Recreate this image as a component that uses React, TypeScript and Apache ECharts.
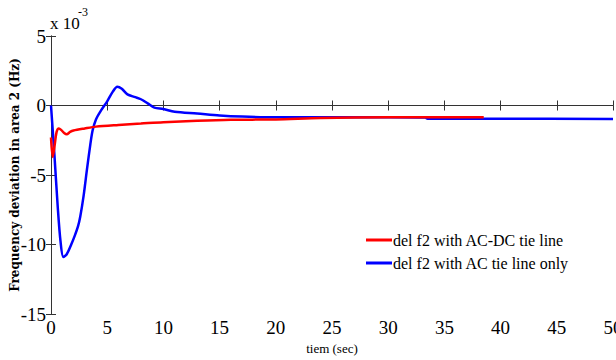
import React, { useEffect, useRef } from "react";
import * as echarts from "echarts";

const xTicks = [0, 5, 10, 15, 20, 25, 30, 35, 40, 45, 50];
const yTicks = [-15, -10, -5, 0, 5];

const redTime = [0, 0.15, 0.3, 0.5, 0.7, 0.9, 1.2, 1.4, 1.7, 2.0, 3.0, 4.0, 6, 8, 10, 13, 16, 20, 24, 30, 38.5];
const redValue = [-2.3, -3.7, -3.0, -1.9, -1.65, -1.75, -2.0, -2.07, -1.9, -1.8, -1.65, -1.52, -1.4, -1.3, -1.2, -1.1, -1.03, -1.0, -0.9, -0.85, -0.85];

const blueTime = [0, 0.3, 0.6, 0.85, 1.1, 1.4, 1.8, 2.1, 2.4, 2.6, 2.9, 3.2, 3.5, 3.7, 4.0, 4.5, 5.0, 5.5, 5.9, 6.3, 6.8, 7.5, 8.0, 8.6, 9.2, 10, 11, 13, 15, 17, 20, 25, 30, 33.3, 33.5, 40, 50];
const blueValue = [0, -3.5, -7.3, -9.8, -10.9, -10.7, -10.0, -9.4, -8.7, -8.0, -6.5, -4.6, -2.8, -1.8, -1.0, -0.3, 0.3, 1.0, 1.35, 1.2, 0.8, 0.6, 0.45, 0.15, -0.15, -0.25, -0.45, -0.58, -0.72, -0.8, -0.85, -0.85, -0.85, -0.87, -0.95, -0.95, -0.97];

const redName = "del f2 with AC-DC tie line";
const blueName = "del f2 with AC tie line only";

const serif = "'Liberation Serif', 'Times New Roman', Times, serif";

export default function App() {
  const ref = useRef<HTMLDivElement>(null);
  useEffect(() => {
    const chart = echarts.init(ref.current!, null, { renderer: "svg" });
    const axisLine = { show: true, lineStyle: { color: "#333", width: 1 } };
    const tick = { show: true, inside: true, length: 5, lineStyle: { color: "#333" } };
    chart.setOption({
      animation: false,
      backgroundColor: "#fff",
      textStyle: { fontFamily: serif },
      grid: { left: 51, right: 3, top: 36, bottom: 46, containLabel: false, outerBoundsMode: "none" },
      graphic: [
        { type: "text", left: 50, top: 15, style: { text: "x 10", font: "17px 'Liberation Serif', serif", fill: "#000" } },
        { type: "text", left: 78, top: 6, style: { text: "-3", font: "12px 'Liberation Serif', serif", fill: "#000" } },
      ],
      legend: {
        orient: "vertical",
        left: 361,
        top: 227,
        itemWidth: 26,
        itemHeight: 3,
        itemGap: 7,
        icon: "rect",
        textStyle: { fontFamily: serif, fontSize: 16, color: "#000", padding: [0, 0, 0, -4] },
        data: [redName, blueName],
      },
      xAxis: [
        {
          type: "value",
          min: 0,
          max: 50,
          interval: 5,
          position: "bottom",
          axisLine,
          axisTick: tick,
          splitLine: { show: false },
          axisLabel: { fontFamily: serif, fontSize: 19, color: "#000", margin: 4, customValues: xTicks },
          name: "tiem (sec)",
          nameLocation: "middle",
          nameGap: 28,
          nameMoveOverlap: false,
          nameTextStyle: { fontFamily: serif, fontSize: 13, color: "#000" },
        },
        {
          type: "value",
          min: 0,
          max: 50,
          interval: 5,
          position: "top",
          axisLine,
          axisTick: tick,
          splitLine: { show: false },
          axisLabel: { show: false },
        },
      ],
      yAxis: [
        {
          type: "value",
          min: -15,
          max: 5,
          interval: 5,
          position: "left",
          axisLine,
          axisTick: tick,
          splitLine: { show: false },
          axisLabel: { fontFamily: serif, fontSize: 19, color: "#000", margin: 5, customValues: yTicks },
          name: "Frequency deviation in area 2 (Hz)",
          nameLocation: "middle",
          nameGap: 30,
          nameMoveOverlap: false,
          nameTextStyle: { fontFamily: "'DejaVu Serif', serif", fontWeight: "bold", fontSize: 12, color: "#000" },
        },
        {
          type: "value",
          min: -15,
          max: 5,
          interval: 5,
          position: "right",
          axisLine,
          axisTick: tick,
          splitLine: { show: false },
          axisLabel: { show: false },
        },
      ],
      series: [
        {
          name: blueName,
          type: "line",
          xAxisIndex: 0,
          yAxisIndex: 0,
          symbol: "none",
          smooth: 0.3,
          color: "#0000ff",
          lineStyle: { width: 2.5, color: "#0000ff" },
          data: blueTime.map((t, i) => [t, blueValue[i]]),
          z: 2,
        },
        {
          name: redName,
          type: "line",
          xAxisIndex: 0,
          yAxisIndex: 0,
          symbol: "none",
          smooth: 0.3,
          color: "#ff0000",
          lineStyle: { width: 2.5, color: "#ff0000" },
          data: redTime.map((t, i) => [t, redValue[i]]),
          z: 3,
        },
      ],
    });
    return () => chart.dispose();
  }, []);
  return <div ref={ref} style={{ width: 616, height: 360, position: "absolute", left: 0, top: 0 }} />;
}
